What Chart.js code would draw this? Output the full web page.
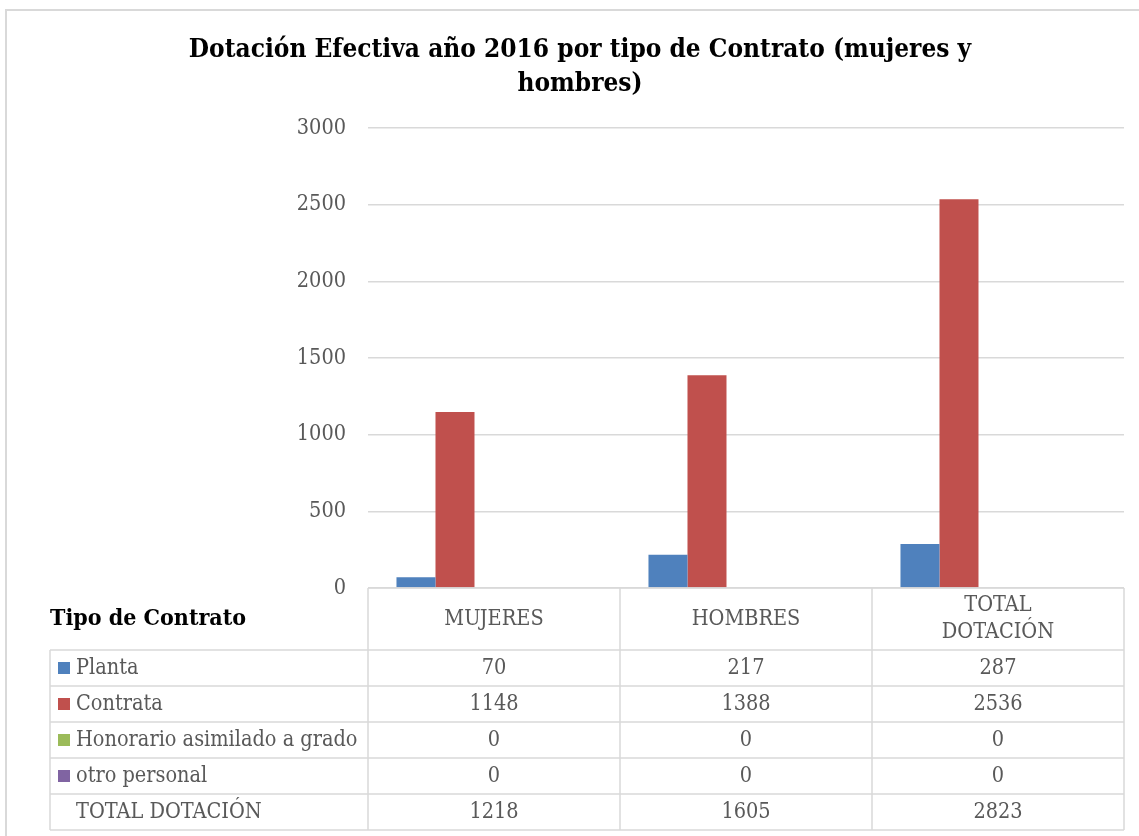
<!DOCTYPE html>
<html>
<head>
<meta charset="utf-8">
<script src="https://cdn.jsdelivr.net/npm/chart.js@4.4.1/dist/chart.umd.min.js"></script>
<style>
  html, body { margin: 0; padding: 0; background: #fff; }
  #wrap { position: relative; width: 1139px; height: 836px; }
</style>
</head>
<body>
<div id="wrap"><canvas id="chart" width="1139" height="836"></canvas></div>
<script>
// Data
const categories = ['MUJERES', 'HOMBRES', ['TOTAL', 'DOTACIÓN']];
const planta = [70, 217, 287];
const contrata = [1148, 1388, 2536];
const honorario = [0, 0, 0];
const otroPersonal = [0, 0, 0];
const totalDotacion = [1218, 1605, 2823];
const yTicks = [0, 500, 1000, 1500, 2000, 2500, 3000];

const FONT = '"DejaVu Serif Condensed", "DejaVu Serif", serif';
const GRID = '#d9d9d9';
const TEXT = '#595959';

// white background + outer frame
const framePlugin = {
    id: 'frame',
    beforeDraw(chart) {
        const ctx = chart.ctx;
        ctx.save();
        ctx.fillStyle = '#fff';
        ctx.fillRect(0, 0, chart.width, chart.height);
        ctx.strokeStyle = GRID;
        ctx.lineWidth = 2;
        ctx.beginPath();
        ctx.moveTo(6, chart.height);
        ctx.lineTo(6, 10);
        ctx.lineTo(chart.width, 10);
        ctx.stroke();
        ctx.restore();
    }
};

// data table drawn under the plot, columns follow the x scale
const tablePlugin = {
    id: 'dataTable',
    afterDraw(chart) {
        const { ctx, chartArea, scales } = chart;
        const x = scales.x;
        const datasets = chart.data.datasets;
        const colW = (chartArea.right - chartArea.left) / categories.length;
        const top = chartArea.bottom;
        const headerH = 62, rowH = 36, tableLeft = 50;
        const bottom = top + headerH + datasets.length * rowH;

        ctx.save();
        ctx.strokeStyle = GRID;
        ctx.lineWidth = 1.5;
        ctx.beginPath();
        ctx.moveTo(chartArea.left, top);
        ctx.lineTo(chartArea.right, top);
        for (let r = 0; r <= datasets.length; r++) {
            const y = top + headerH + r * rowH;
            ctx.moveTo(tableLeft, y);
            ctx.lineTo(chartArea.right, y);
        }
        ctx.moveTo(tableLeft, top + headerH);
        ctx.lineTo(tableLeft, bottom);
        for (let c = 0; c <= categories.length; c++) {
            const xx = chartArea.left + c * colW;
            ctx.moveTo(xx, top);
            ctx.lineTo(xx, bottom);
        }
        ctx.stroke();

        // "Tipo de Contrato"
        ctx.fillStyle = '#000';
        ctx.font = 'bold 23px ' + FONT;
        ctx.textAlign = 'left';
        ctx.textBaseline = 'middle';
        ctx.fillText('Tipo de Contrato', tableLeft, top + headerH / 2);

        // header labels
        ctx.fillStyle = TEXT;
        ctx.font = '21.5px ' + FONT;
        ctx.textAlign = 'center';
        categories.forEach((cat, i) => {
            const cx = x.getPixelForValue(i);
            const lines = Array.isArray(cat) ? cat : [cat];
            const lh = 27;
            const y0 = top + headerH / 2 - (lines.length - 1) * lh / 2;
            lines.forEach((ln, j) => ctx.fillText(ln, cx, y0 + j * lh));
        });

        // rows
        datasets.forEach((ds, r) => {
            const cy = top + headerH + r * rowH + rowH / 2;
            if (ds.showKey) {
                ctx.fillStyle = ds.backgroundColor;
                ctx.fillRect(58, cy - 6, 12, 12);
            }
            ctx.fillStyle = TEXT;
            ctx.textAlign = 'left';
            ctx.fillText(ds.label, 76, cy);
            ctx.textAlign = 'center';
            ds.data.forEach((v, i) => {
                ctx.fillText(String(v), x.getPixelForValue(i), cy);
            });
        });
        ctx.restore();
    }
};

const ctx = document.getElementById('chart').getContext('2d');
new Chart(ctx, {
    type: 'bar',
    data: {
        labels: categories,
        datasets: [
            { label: 'Planta', data: planta, backgroundColor: '#4F81BD', showKey: true },
            { label: 'Contrata', data: contrata, backgroundColor: '#C0504D', showKey: true },
            { label: 'Honorario asimilado a grado', data: honorario, backgroundColor: '#9BBB59', showKey: true },
            { label: 'otro personal', data: otroPersonal, backgroundColor: '#8064A2', showKey: true },
            { label: 'TOTAL DOTACIÓN', data: totalDotacion, backgroundColor: 'rgba(0,0,0,0)', showKey: false }
        ]
    },
    options: {
        responsive: false,
        animation: false,
        devicePixelRatio: 1,
        categoryPercentage: 0.774,
        barPercentage: 1,
        layout: {
            padding: { left: 36, right: 15, top: 0, bottom: 248 }
        },
        plugins: {
            legend: { display: false },
            tooltip: { enabled: false },
            title: {
                display: true,
                text: ['Dotación Efectiva año 2016 por tipo de Contrato (mujeres y', 'hombres)'],
                color: '#000',
                font: { family: FONT, size: 26, weight: 'bold', lineHeight: 1.31 },
                padding: { top: 33, bottom: 27 }
            }
        },
        scales: {
            x: {
                display: false
            },
            y: {
                min: 0,
                max: 3000,
                afterBuildTicks: scale => {
                    scale.ticks = yTicks.map(v => ({ value: v }));
                },
                afterFit: scale => {
                    scale.width = 332;
                },
                border: { display: false },
                grid: { color: GRID, lineWidth: 1.5, drawTicks: false },
                ticks: {
                    color: TEXT,
                    padding: 22,
                    font: { family: FONT, size: 21.5 },
                    callback: v => String(v)
                }
            }
        }
    },
    plugins: [framePlugin, tablePlugin]
});
</script>
</body>
</html>
